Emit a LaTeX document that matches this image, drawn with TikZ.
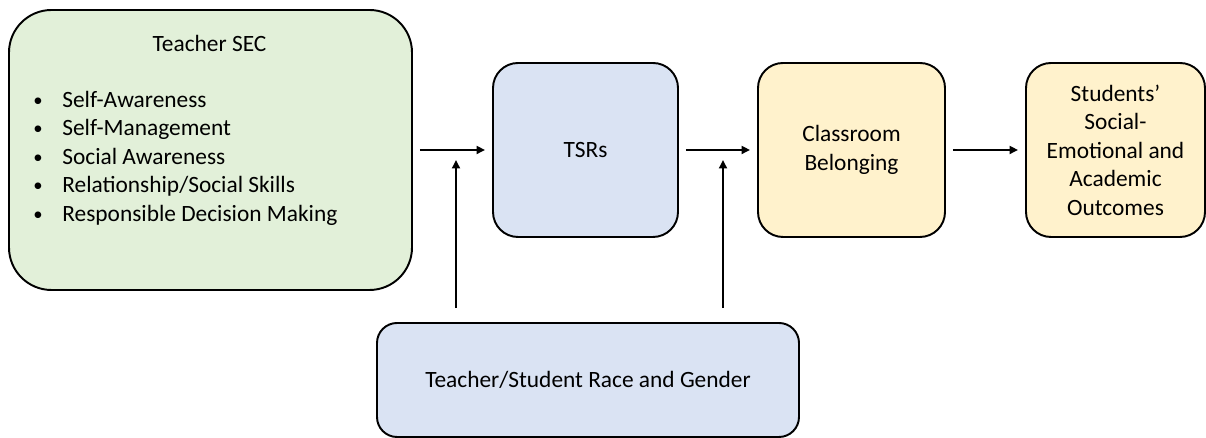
\documentclass[tikz,border=0pt]{standalone}
\usepackage{fontspec}
\setmainfont{Carlito}
\usetikzlibrary{positioning,arrows.meta}
\definecolor{secgreen}{HTML}{E2F0D9}
\definecolor{tsrblue}{HTML}{DAE3F3}
\definecolor{outyellow}{HTML}{FFF2CC}
\newcommand{\secitem}{\makebox[0.64cm][l]{\hspace{0.06cm}\raisebox{0.02cm}{\scalebox{0.8}{\textbullet}}}}
\begin{document}
\begin{tikzpicture}[
  txt/.style={font=\fontsize{13.3}{16.2}\selectfont},
  box/.style={draw,line width=1.1pt,rounded corners=0.5cm,align=center,inner sep=0pt,txt},
  arr/.style={-{Triangle[length=0.17cm,width=0.16cm]},line width=1pt,shorten >=0.14cm,shorten <=0.14cm},
  uparr/.style={arr,shorten <=0.28cm,shorten >=0.2cm}]
  \useasboundingbox (0,0) rectangle (24.12,8.76);
  % boxes
  \node[box,fill=secgreen,rounded corners=0.85cm,minimum width=8.06cm,minimum height=5.6cm] (sec) at (4.21,5.76) {};
  \node[txt] (sectitle) at (4.19,7.9) {Teacher SEC};
  \node[txt,align=left,anchor=west,inner sep=0pt] (seclist) at (0.6,5.6) {%
    \secitem Self-Awareness\\
    \secitem Self-Management\\
    \secitem Social Awareness\\
    \secitem Relationship/Social Skills\\
    \secitem Responsible Decision Making};
  \node[box,fill=tsrblue,minimum width=3.7cm,minimum height=3.48cm] (tsr) at (11.71,5.76) {TSRs};
  \node[box,fill=outyellow,minimum width=3.74cm,minimum height=3.48cm] (belong) at (17.03,5.76) {Classroom\\Belonging};
  \node[box,fill=outyellow,minimum width=3.58cm,minimum height=3.48cm] (outcome) at (22.31,5.76) {Students’\\Social-\\Emotional and\\Academic\\Outcomes};
  \node[box,fill=tsrblue,rounded corners=0.4cm,minimum width=8.44cm,minimum height=2.28cm] (race) at (11.76,1.16) {Teacher/Student Race and Gender};
  % arrows
  \coordinate (j1) at (9.12,5.76);
  \coordinate (j2) at (14.46,5.76);
  \draw[arr] (sec) -- (tsr);
  \draw[arr] (tsr) -- (belong);
  \draw[arr] (belong) -- (outcome);
  \draw[uparr] (race.north -| j1) -- (j1);
  \draw[uparr] (race.north -| j2) -- (j2);
\end{tikzpicture}
\end{document}
